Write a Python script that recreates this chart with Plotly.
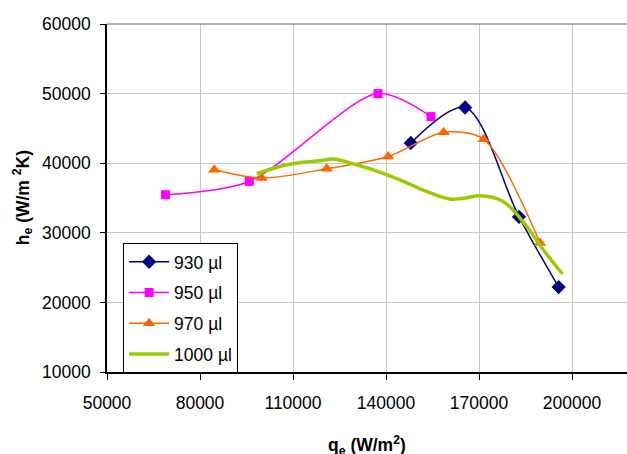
import plotly.graph_objects as go

# ---- data ----
q_930 = [148000, 165500, 182900, 195700]
h_930 = [42900, 48000, 32300, 22200]

q_950 = [68900, 95900, 137400, 154500]
h_950 = [35470, 37380, 50000, 46700]

q_970 = [84600, 99900, 120900, 140700, 158600, 171500, 189700]
h_970 = [39050, 37860, 39200, 40960, 44460, 43450, 28540]

q_1000 = [98300, 106900, 113000, 118700, 122900, 130500, 137500, 144500, 153100,
          160600, 165500, 170300, 177800, 185400, 190000, 196900]
h_1000 = [38480, 39670, 40150, 40340, 40590, 39770, 38800, 37620, 35940,
          34850, 35000, 35320, 34500, 30920, 28000, 24090]

x_ticks = [50000, 80000, 110000, 140000, 170000, 200000]
y_ticks = [10000, 20000, 30000, 40000, 50000, 60000]

FONT = "Liberation Sans, Arial, sans-serif"

fig = go.Figure()
fig.add_trace(go.Scatter(x=q_930, y=h_930, name="930 µl", mode="lines+markers",
                         line=dict(color="#000080", width=1.5, shape="spline", smoothing=0.9),
                         marker=dict(symbol="diamond", size=11, color="#000080"),
                         legendgroup="a"))
fig.add_trace(go.Scatter(x=q_950, y=h_950, name="950 µl", mode="lines+markers",
                         line=dict(color="#FF00FF", width=1.5, shape="spline", smoothing=0.8),
                         marker=dict(symbol="square", size=9, color="#FF00FF"),
                         legendgroup="b"))
fig.add_trace(go.Scatter(x=q_970, y=h_970, name="970 µl", mode="lines+markers",
                         line=dict(color="#FF6600", width=1.5, shape="spline", smoothing=0.8),
                         marker=dict(symbol="triangle-up", size=11, color="#FF6600"),
                         legendgroup="c"))
fig.add_trace(go.Scatter(x=q_1000, y=h_1000, name="1000 µl", mode="lines",
                         line=dict(color="#99CC00", width=3.5, shape="spline"),
                         legendgroup="d"))

fig.update_layout(
    width=627, height=454,
    margin=dict(l=107, r=0, t=24, b=82, autoexpand=False),
    paper_bgcolor="white", plot_bgcolor="white",
    font=dict(family=FONT, size=17.5, color="black"),
    showlegend=True,
    legend=dict(x=0.031, y=0.371, xanchor="left", yanchor="top",
                bordercolor="black", borderwidth=1, bgcolor="white",
                font=dict(size=17.5), tracegroupgap=5, itemwidth=40),
    xaxis=dict(range=[50000, 217742], tickvals=x_ticks,
               ticktext=[str(v) for v in x_ticks], automargin=False,
               showgrid=True, gridcolor="#c8c8c8", gridwidth=1,
               showline=True, linecolor="black", linewidth=1.5,
               ticks="outside", ticklen=6, tickcolor="black",
               ticklabelstandoff=8, zeroline=False),
    yaxis=dict(range=[10000, 60000], tickvals=y_ticks,
               ticktext=[str(v) for v in y_ticks], automargin=False,
               showgrid=True, gridcolor="#c8c8c8", gridwidth=1,
               showline=True, linecolor="black", linewidth=1.5,
               ticks="outside", ticklen=5, tickcolor="black",
               ticklabelstandoff=6, zeroline=False),
    annotations=[
        dict(text="<b>q<sub>e</sub> (W/m<sup>2</sup>)</b>", xref="paper", yref="paper",
             x=0.5, y=-0.212, xanchor="center", yanchor="middle", showarrow=False,
             font=dict(size=17.5)),
        dict(text="<b>h<sub>e</sub> (W/m <sup>2</sup>K)</b>", xref="paper", yref="paper",
             x=-0.163, y=0.5, xanchor="center", yanchor="middle", showarrow=False,
             textangle=-90, font=dict(size=17.5)),
    ],
)
fig.add_shape(type="line", xref="paper", yref="paper", x0=0, x1=1, y0=1, y1=1,
              line=dict(color="#999999", width=1.5))

fig.write_html("out.html", config={"displayModeBar": False},
               post_script="document.body.style.margin='0';document.body.style.padding='0';")
